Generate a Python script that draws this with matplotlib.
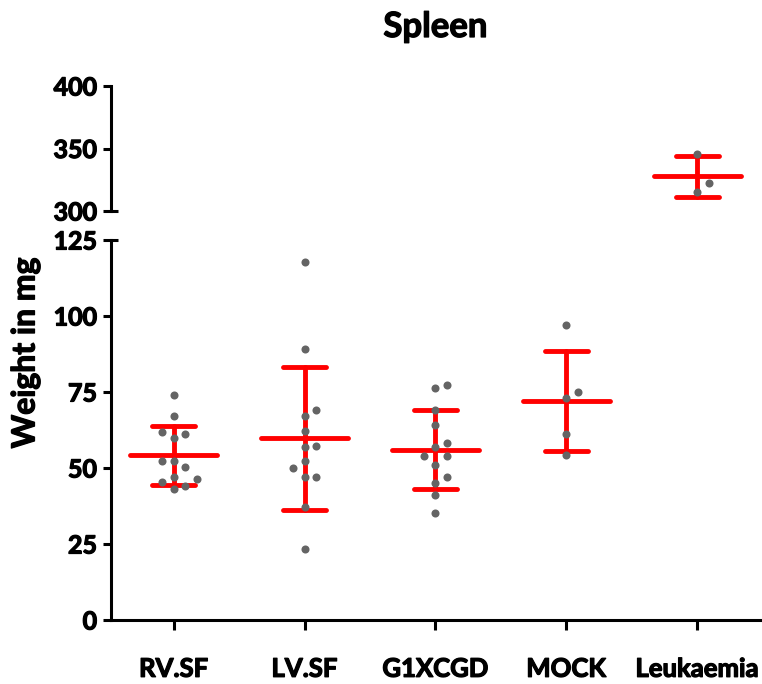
import numpy as np
import matplotlib
matplotlib.use("Agg")
import matplotlib.pyplot as plt
import matplotlib.patheffects as pe

plt.rcParams['font.family'] = ['Lato', 'DejaVu Sans']
plt.rcParams['font.weight'] = 'bold'

# ---- data ----
categories = ["RV.SF", "LV.SF", "G1XCGD", "MOCK", "Leukaemia"]
rv_sf = [74.0, 67.1, 61.9, 61.2, 60.0, 52.2, 52.2, 50.2, 47.1, 46.3, 45.3, 44.1, 43.1]
lv_sf = [117.9, 89.0, 69.0, 67.1, 62.1, 57.2, 57.0, 52.2, 50.1, 47.0, 47.0, 37.3, 23.3]
g1xcgd = [77.3, 76.2, 69.1, 64.1, 58.3, 57.0, 54.0, 54.0, 51.0, 46.9, 45.0, 41.1, 35.1]
mock = [97.0, 75.0, 73.1, 61.1, 54.2]
leukaemia = [346.0, 322.1, 314.9]
groups = [rv_sf, lv_sf, g1xcgd, mock, leukaemia]

lower_ticks = [0, 25, 50, 75, 100, 125]
upper_ticks = [300, 350, 400]

# ---- layout ----
W, H = 762, 684
fig = plt.figure(figsize=(W / 100, H / 100), dpi=100)
ax_left_px, ax_right_px = 111, 760
lo_top_px, lo_bot_px = 240, 620
hi_top_px, hi_bot_px = 86, 211
ax_w = (ax_right_px - ax_left_px) / W
ax_lo = fig.add_axes([ax_left_px / W, (H - lo_bot_px) / H, ax_w, (lo_bot_px - lo_top_px) / H])
ax_hi = fig.add_axes([ax_left_px / W, (H - hi_bot_px) / H, ax_w, (hi_bot_px - hi_top_px) / H])

xlim = (-0.48, len(categories) - 1 + 0.48)
lo_lim = (lower_ticks[0], lower_ticks[-1])
hi_lim = (upper_ticks[0], upper_ticks[-1])
for ax, lim in ((ax_lo, lo_lim), (ax_hi, hi_lim)):
    ax.set_xlim(*xlim)
    ax.set_ylim(*lim)

px_per_cat = (ax_right_px - ax_left_px) / (xlim[1] - xlim[0])
px_per_unit_lo = (lo_bot_px - lo_top_px) / (lo_lim[1] - lo_lim[0])
px_per_unit_hi = (hi_bot_px - hi_top_px) / (hi_lim[1] - hi_lim[0])


def swarm_offsets(values, px_per_unit, step_px=11.5, min_dist=10.5):
    order = sorted(range(len(values)), key=lambda i: values[i])
    placed = []
    offs = [0.0] * len(values)
    for i in order:
        y = values[i] * px_per_unit
        chosen = 0.0
        for k in [0, 1, -1, 2, -2, 3, -3]:
            x = k * step_px
            if all((x - px) ** 2 + (y - py) ** 2 >= min_dist ** 2 for px, py in placed):
                chosen = x
                break
        placed.append((chosen, y))
        offs[i] = chosen / px_per_cat
    return offs


RED = '#ff0000'
GREY = '#646464'
lw_bar = 3.5
mean_half = 0.332
cap_half = 0.164

for i, vals in enumerate(groups):
    vals = np.asarray(vals)
    m = vals.mean()
    sd = vals.std(ddof=1)
    ppu = px_per_unit_hi if m > lo_lim[1] else px_per_unit_lo
    offs = swarm_offsets(list(vals), ppu)
    for ax in (ax_lo, ax_hi):
        kw = dict(color=RED, lw=lw_bar, solid_capstyle='round', zorder=2)
        ax.plot([i - mean_half, i + mean_half], [m, m], **kw)
        ax.plot([i, i], [m - sd, m + sd], **kw)
        ax.plot([i - cap_half, i + cap_half], [m + sd, m + sd], **kw)
        ax.plot([i - cap_half, i + cap_half], [m - sd, m - sd], **kw)
        ax.plot(i + np.asarray(offs), vals, 'o', color=GREY, ms=5.8, mec='none', zorder=3)

# ---- axes styling ----
spine_w = 2.2
fs = 18
thick = [pe.withStroke(linewidth=0.9, foreground='black')]
for ax in (ax_lo, ax_hi):
    ax.spines['top'].set_visible(False)
    ax.spines['right'].set_visible(False)
    ax.spines['left'].set_linewidth(spine_w)
    ax.tick_params(axis='y', direction='out', length=6, width=spine_w, labelsize=fs, pad=4)
ax_lo.spines['bottom'].set_linewidth(spine_w)
ax_hi.spines['bottom'].set_visible(False)
ax_hi.set_xticks([])
ax_lo.set_yticks(lower_ticks)
ax_hi.set_yticks(upper_ticks)
ax_lo.set_xticks(range(len(categories)))
ax_lo.set_xticklabels(categories)
ax_lo.tick_params(axis='x', direction='out', length=7.5, width=spine_w, labelsize=18.5, pad=19)
for lab in ax_lo.get_xticklabels() + ax_lo.get_yticklabels() + ax_hi.get_yticklabels():
    lab.set_fontweight('bold')
    lab.set_path_effects(thick)

# break caps
cap_frac = 7 / (ax_right_px - ax_left_px)
ax_hi.plot([0, cap_frac], [0, 0], transform=ax_hi.transAxes, clip_on=False,
           color='black', lw=spine_w, solid_capstyle='butt')
ax_lo.plot([0, cap_frac], [1, 1], transform=ax_lo.transAxes, clip_on=False,
           color='black', lw=spine_w, solid_capstyle='butt')

fig.text((ax_left_px + ax_right_px) / 2 / W, 1 - 27 / H, "Spleen", ha='center', va='center',
         fontsize=25, fontweight='bold', path_effects=thick)
fig.text(25 / W, 1 - 353 / H, "Weight in mg", ha='center', va='center', rotation=90,
         fontsize=23, fontweight='bold', path_effects=thick)

fig.savefig('out.png', dpi=100)
